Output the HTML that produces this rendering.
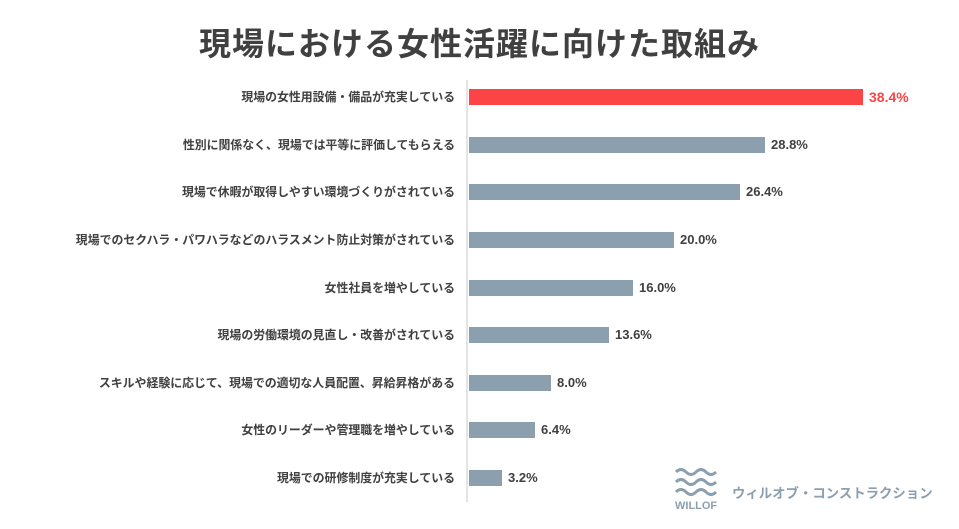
<!DOCTYPE html>
<html><head><meta charset="utf-8"><style>
body{margin:0;width:959px;height:529px;background:#fff;overflow:hidden;font-family:"Liberation Sans","Noto Sans CJK JP",sans-serif;position:relative}
.t{position:absolute;left:0;width:959px;top:24px;text-align:center;font-size:32px;font-weight:bold;color:#404040;line-height:40px;letter-spacing:1px}
.l{position:absolute;right:504px;font-size:11.9px;font-weight:bold;color:#404040;white-space:nowrap;line-height:16px}
.b{position:absolute;left:469px;height:16px;background:#8c9fae}
.v{position:absolute;font-size:13px;font-weight:bold;color:#404040;line-height:16px}
.ax{position:absolute;left:466px;top:80px;width:2px;height:422px;background:#e4e4e4}
</style></head><body>
<div class="t">現場における女性活躍に向けた取組み</div>
<div class="ax"></div>

<div class="l" style="top:89px">現場の女性用設備・備品が充実している</div>
<div class="b" style="top:89px;width:394px;background:#fc4446"></div>
<div class="v" style="top:89px;left:869px;color:#fc4446;font-size:14px">38.4%</div>

<div class="l" style="top:137px">性別に関係なく、現場では平等に評価してもらえる</div>
<div class="b" style="top:137px;width:296px"></div>
<div class="v" style="top:137px;left:771px">28.8%</div>

<div class="l" style="top:184px">現場で休暇が取得しやすい環境づくりがされている</div>
<div class="b" style="top:184px;width:271px"></div>
<div class="v" style="top:184px;left:746px">26.4%</div>

<div class="l" style="top:232px">現場でのセクハラ・パワハラなどのハラスメント防止対策がされている</div>
<div class="b" style="top:232px;width:205px"></div>
<div class="v" style="top:232px;left:680px">20.0%</div>

<div class="l" style="top:280px">女性社員を増やしている</div>
<div class="b" style="top:280px;width:164px"></div>
<div class="v" style="top:280px;left:639px">16.0%</div>

<div class="l" style="top:327px">現場の労働環境の見直し・改善がされている</div>
<div class="b" style="top:327px;width:140px"></div>
<div class="v" style="top:327px;left:615px">13.6%</div>

<div class="l" style="top:375px">スキルや経験に応じて、現場での適切な人員配置、昇給昇格がある</div>
<div class="b" style="top:375px;width:82px"></div>
<div class="v" style="top:375px;left:557px">8.0%</div>

<div class="l" style="top:422px">女性のリーダーや管理職を増やしている</div>
<div class="b" style="top:422px;width:66px"></div>
<div class="v" style="top:422px;left:541px">6.4%</div>

<div class="l" style="top:470px">現場での研修制度が充実している</div>
<div class="b" style="top:470px;width:33px"></div>
<div class="v" style="top:470px;left:508px">3.2%</div>

<svg style="position:absolute;left:674px;top:466px" width="50" height="34" viewBox="0 0 50 34">
<g fill="none" stroke="#8c9fae" stroke-width="3">
<path d="M2 6 q5 -5 10 0 t10 0 t10 0 t10 0"/>
<path d="M2 16 q5 -5 10 0 t10 0 t10 0 t10 0"/>
<path d="M2 26 q5 -5 10 0 t10 0 t10 0 t10 0"/>
</g></svg>
<div style="position:absolute;left:675px;top:500px;font-size:11px;font-weight:bold;color:#8c9fae">WILLOF</div>
<div style="position:absolute;left:732px;top:482px;font-size:13.4px;font-weight:bold;color:#8c9fae">ウィルオブ・コンストラクション</div>
</body></html>
